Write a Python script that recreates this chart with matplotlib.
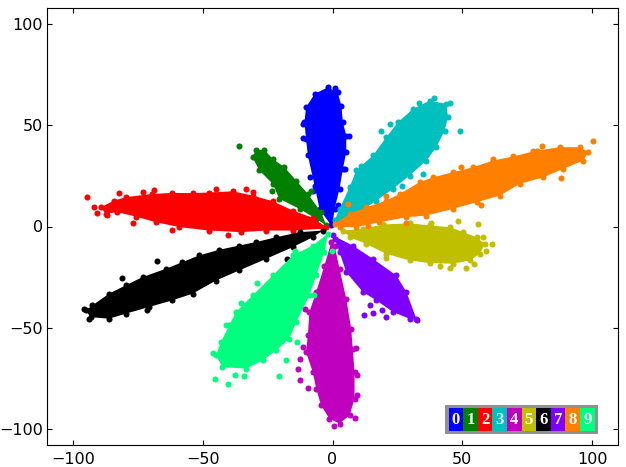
import matplotlib; matplotlib.use("Agg")
import matplotlib.pyplot as plt
from matplotlib.patches import Rectangle

# legend colours, class 0..9
colors = ["#0000ff", "#007f00", "#ff0000", "#00bfbf", "#bf00bf",
          "#bfbf00", "#000000", "#7f00ff", "#ff7f00", "#00ff7f"]
labels = ["0", "1", "2", "3", "4", "5", "6", "7", "8", "9"]
ticks = [-100, -50, 0, 50, 100]

# estimated boundary of each dense cluster
x0 = [-0.5, -5, -6.9, -9.5, -10.2, -10.8, -10.2, -6.9, -1.8, 2, 3.4, 4, 5.3, 5.3, 4, 2.7, 0.8, 0.1]
y0 = [0.5, 8.7, 20.2, 35.1, 43.3, 51.5, 58.9, 65.5, 68.8, 66.3, 59.8, 51.5, 44.9, 36.7, 28.5, 18.6, 8.7, 2.1]
x1 = [-2.4, -6.3, -12.7, -20.5, -23, -28.2, -30.8, -29.5, -26.3, -23, -18.5, -14, -9.5, -4.4]
y1 = [0.5, 3.8, 8.7, 13.7, 21.1, 27.7, 34.2, 37.9, 37.9, 33.4, 29.3, 22.7, 16.1, 7.1]
x2 = [-2.4, -7.6, -15.3, -23, -30.8, -38.5, -47.5, -53.9, -61.7, -69.4, -79.7, -84.2, -89.3, -87.4,
      -82.9, -75.8, -68, -59, -47.5, -35.3, -25.6, -15.3, -3.7]
y2 = [-0.3, 4.3, 7.9, 12.5, 15.3, 17.4, 16.8, 16.5, 16.6, 16.1, 14.5, 12.8, 9.5, 6.3,
      7.1, 4.9, 2.1, -0.3, -2, -2.8, -2, -2, -1.1]
x3 = [0.8, 2.7, 6.6, 9.1, 15.6, 20.7, 25.2, 31, 37.5, 43.9, 44.5, 43.2, 40, 36.2, 29.7, 23.3, 16.9, 10.4, 2.7]
y3 = [3, 8.7, 19.4, 27.7, 35.1, 44.1, 51.5, 58.1, 62.2, 60.6, 54, 47.4, 39.2, 32.6, 25.2, 18.6, 12.8, 7.1, 2.1]
x4 = [-0.5, -3.1, -6.3, -8.9, -9.5, -10.2, -7.6, -6.3, -4.4, -1.2, 2.7, 6.6, 8.5, 8.5, 7.8, 7.2, 5.3, 2.7, 0.8]
y4 = [-7.8, -19.3, -32.4, -42.3, -53.8, -62.1, -71.9, -80.1, -88.4, -95, -97.4, -93.3, -85.1, -71.9,
      -60.4, -50.5, -35.7, -20.9, -9.4]
x5 = [4, 11.7, 19.4, 29.7, 37.5, 45.2, 50.3, 55.5, 58.7, 56.8, 52.9, 46.4, 37.5, 29.7, 20.7, 13, 6.6]
y5 = [-2, -1.1, 1, 1.6, 0.5, -0.3, -2.8, -5.3, -8.6, -13.5, -16.8, -18.4, -18.1, -16.8, -13.5, -8.6, -5.3]
x6 = [-3.7, -12.7, -21.7, -29.5, -35.9, -43.6, -51.4, -57.8, -64.2, -73.2, -79.7, -86.1, -92.5, -95.1,
      -93.2, -86.1, -79.7, -70.7, -61.7, -53.9, -44.9, -35.9, -25.6, -15.3, -7.6]
y6 = [-2, -2.8, -5.3, -7.7, -9.4, -11.5, -14.3, -17.6, -20.9, -25, -29.1, -33.2, -39, -41.5,
      -44.8, -45.6, -43.1, -39.8, -36.5, -33.2, -26.7, -21.7, -16, -10.2, -5.3]
x7 = [0.1, 7.8, 15.6, 24.6, 28.5, 32.3, 29.7, 23.3, 16.9, 11.7, 5.3, 2.7, 0.8]
y7 = [-4.4, -9.4, -16, -24.2, -32.4, -45.6, -45.6, -42.3, -36.5, -32.4, -22.6, -12.7, -6.1]
x8 = [0.8, 6.6, 13, 20.7, 25.9, 33.6, 38.7, 46.4, 54.2, 61.9, 69.6, 78.6, 87.6, 95.4, 98.6, 96.6, 88.9,
      81.2, 72.2, 64.5, 55.5, 46.4, 36.2, 28.5, 18.1, 9.1, 2.7]
y8 = [1.3, 6.3, 9.5, 12.8, 16.1, 21.9, 24.3, 26.8, 29.3, 32.6, 34.6, 37.5, 39.2, 39.2, 36.7, 32.6, 28.5,
      24.3, 21.1, 15.3, 12, 8.7, 5.4, 4.6, 2.1, -0.3, -0.3]
x9 = [-1.8, -7.6, -15.3, -23, -30.8, -37.2, -39.8, -43, -44.9, -42.4, -33.3, -26.9, -21.7, -16.6, -14,
      -8.9, -6.3, -3.1]
y9 = [-3.6, -9.4, -14.3, -24.2, -34.1, -42.3, -48.9, -57.1, -63.7, -69.5, -70.3, -66.2, -61.2, -55.5,
      -47.3, -34.1, -24.2, -12.7]

# separate stray points outside the dense clusters
sx0 = [6.2, -11.5, -11.5, -8.5, -7.6, 2.3, 5, 0.8]
sy0 = [44.9, 50.7, 43.6, 24.7, 17.3, 10.7, 28.5, 68.5]
sx1 = [-36.2, -23.4, -8.2]
sy1 = [40, 17.4, 17.3]
sx2 = [-94.5, -91.9, -90.6, -86.8, -82.2, -73, -68.7, -76.8, -61.7, -40.4, -44.9, -33.4, -30.5]
sy2 = [14.8, 9.5, 6.8, 5.9, 16.5, 16.9, 17.8, 1.6, -1.6, -4, 18.3, 18.3, 16.9]
sx3 = [18.8, 22.3, 11.1, 33.3, 39.1, 45.4, 49, 34.9, 26.9]
sy3 = [47.4, 50.7, 30.1, 60.9, 63.6, 61.1, 47.1, 26, 20.2]
sx4 = [-12.7, -13.1, -12.7, -9.5, -11.5, -10.5, 8.5, 0.5, 9.5, 9.4, 8.9]
sy4 = [-65.7, -70.6, -75.7, -79.7, -59.6, -41, -94.5, -98.8, -83.5, -73.6, -59.9]
sx5 = [61.3, 48.4, 56.1, 38.1, 58, 59.3, 54.6, 51.6, 45.4, 41.6, 20.7]
sy5 = [-8.6, 2.6, 1, 1.8, -5.3, -12.2, -18.4, -20.4, -20.6, -19.3, -15.5]
sx6 = [-67.5, -81, -95.6, -93.8, -71.3, -17.6]
sy6 = [-17.1, -25.5, -40.8, -45.6, -41.5, -16.3]
sx7 = [12.1, 15.6, 19.2, 20.5, 14.3, 32.5]
sy7 = [-43.6, -42.6, -41.3, -44.8, -39, -46.4]
sx8 = [100.3, 80.8, 77.3, 61.9, 87.9, 57.4, 49.7, 20.7, 5.9, 28.5, 13.6]
sy8 = [42.1, 39.7, 37.5, 33.4, 23.9, 10.4, 29.6, 15, 11.2, 1.8, 0.1]
sx9 = [-46.2, -45.3, -40.4, -37.5, -34.2, -20.8, -29.2, -35.3, -41, -13.6, -17.9, -14.3, -7.2, -0.3]
sy9 = [-62.4, -75.2, -77.7, -73.2, -74.1, -74.1, -27.8, -37.9, -48.9, -57.1, -66.2, -11.9, -33.7, -12.2]

xs = [x0, x1, x2, x3, x4, x5, x6, x7, x8, x9]
ys = [y0, y1, y2, y3, y4, y5, y6, y7, y8, y9]
sxs = [sx0, sx1, sx2, sx3, sx4, sx5, sx6, sx7, sx8, sx9]
sys_ = [sy0, sy1, sy2, sy3, sy4, sy5, sy6, sy7, sy8, sy9]

fig = plt.figure(figsize=(6.26, 4.67), dpi=100)
ax = fig.add_axes([47 / 626, 1 - 445 / 467, 571 / 626, 437 / 467])

for c, x, y, sx, sy in zip(colors, xs, ys, sxs, sys_):
    ax.fill(x, y, color=c, lw=0)
    ax.scatter(x + sx, y + sy, s=19, color=c, linewidths=0)

ax.set_xlim(-110, 110)
ax.set_ylim(-108, 108)
ax.set_xticks(ticks)
ax.set_yticks(ticks)
ax.tick_params(direction="in", top=True, right=True, length=3.5, labelsize=11.5)
ax.tick_params(axis="x", pad=5)
ax.tick_params(axis="y", pad=3)

# colour key, positioned in axes fractions
ax.add_patch(Rectangle((398 / 571, 11 / 437), 153 / 571, 29 / 437, transform=ax.transAxes,
                       color="#909090", lw=0, zorder=5))
bw = 14.6
for i, (c, s) in enumerate(zip(colors, labels)):
    x_left = 401.5 + i * bw
    ax.add_patch(Rectangle((x_left / 571, 14 / 437), bw / 571, 23 / 437, transform=ax.transAxes,
                           color=c, lw=0, zorder=6))
    ax.text((x_left + bw / 2) / 571, 25.5 / 437, s, transform=ax.transAxes, color="white",
            family="Liberation Serif", weight="bold", fontsize=12, ha="center", va="center", zorder=7)

fig.savefig("out.png", dpi=100)
